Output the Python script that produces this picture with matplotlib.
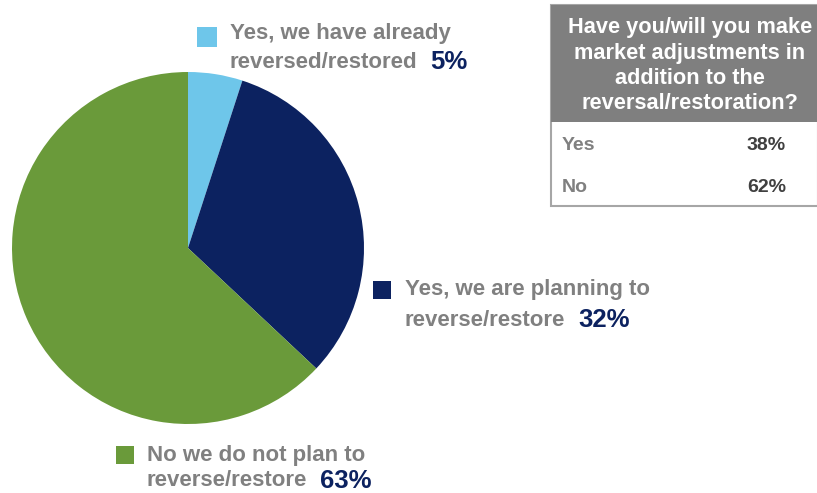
import matplotlib
matplotlib.use("Agg")
import matplotlib.pyplot as plt
from matplotlib.patches import Rectangle

plt.rcParams['font.family'] = ['Liberation Sans', 'DejaVu Sans']

# Survey results
categories = ["Yes, we have already\nreversed/restored",
              "Yes, we are planning to\nreverse/restore",
              "No we do not plan to\nreverse/restore"]
shares = [5, 32, 63]
colors = ["#6EC6EA", "#0C2260", "#6A9A3A"]

table_title = "Have you/will you make\nmarket adjustments in\naddition to the\nreversal/restoration?"
table_rows = ["Yes", "No"]
table_values = [38, 62]

W, H = 817, 493
fig = plt.figure(figsize=(W / 100, H / 100), dpi=100)
ax = fig.add_axes([0, 0, 1, 1])

def Y(y):
    return H - y

ax.pie(shares, colors=colors, startangle=90, counterclock=False,
       center=(188, Y(248)), radius=176, frame=True,
       wedgeprops=dict(linewidth=0))
ax.set_xlim(0, W)
ax.set_ylim(0, H)
ax.set_aspect('equal')
ax.axis('off')

gray = "#808080"
navy = "#0C2260"
fs = 16

# Legend entries: square marker, two-line label, percentage
legend_pos = [(197, 27, 20, 230, 33, 62),
              (373, 281, 18, 405, 289, 320),
              (116, 446, 18, 147, 455, 481)]
fig.canvas.draw()
inv = ax.transData.inverted()
for (sx, sy, ss, tx, ty1, ty2), label, val, col in zip(legend_pos, categories, shares, colors):
    ax.add_patch(Rectangle((sx, Y(sy + ss)), ss, ss, facecolor=col, edgecolor='none'))
    line1, line2 = label.split("\n")
    ax.text(tx, Y(ty1), line1, color=gray, fontsize=fs, fontweight='bold', va='center', ha='left')
    t2 = ax.text(tx, Y(ty2), line2, color=gray, fontsize=fs, fontweight='bold', va='center', ha='left')
    fig.canvas.draw()
    x_end = inv.transform(t2.get_window_extent().get_points())[1][0]
    ax.text(x_end + 13, Y(ty2), f"{val}%", color=navy, fontsize=18.5, fontweight='bold',
            va='center', ha='left')

# Side table
tx0, ty0, tx1, ty1 = 551, 5, 818, 206
ax.add_patch(Rectangle((tx0, Y(ty1)), tx1 - tx0, ty1 - ty0, facecolor='white',
                       edgecolor='#A6A6A6', linewidth=1.5))
ax.add_patch(Rectangle((tx0, Y(122)), tx1 - tx0, 122 - ty0, facecolor='#7F7F7F', edgecolor='none'))
for i, line in enumerate(table_title.split("\n")):
    ax.text(690, Y(28 + i * 25.3), line, color='white', fontsize=15.7, fontweight='bold',
            ha='center', va='center')
for i, (r, v) in enumerate(zip(table_rows, table_values)):
    yy = Y(146 + i * 41)
    ax.text(562, yy, r, color=gray, fontsize=14, fontweight='bold', ha='left', va='center')
    ax.text(747, yy, f"{v}%", color='#404040', fontsize=14, fontweight='bold', ha='left', va='center')

fig.savefig("out.png", dpi=100)
